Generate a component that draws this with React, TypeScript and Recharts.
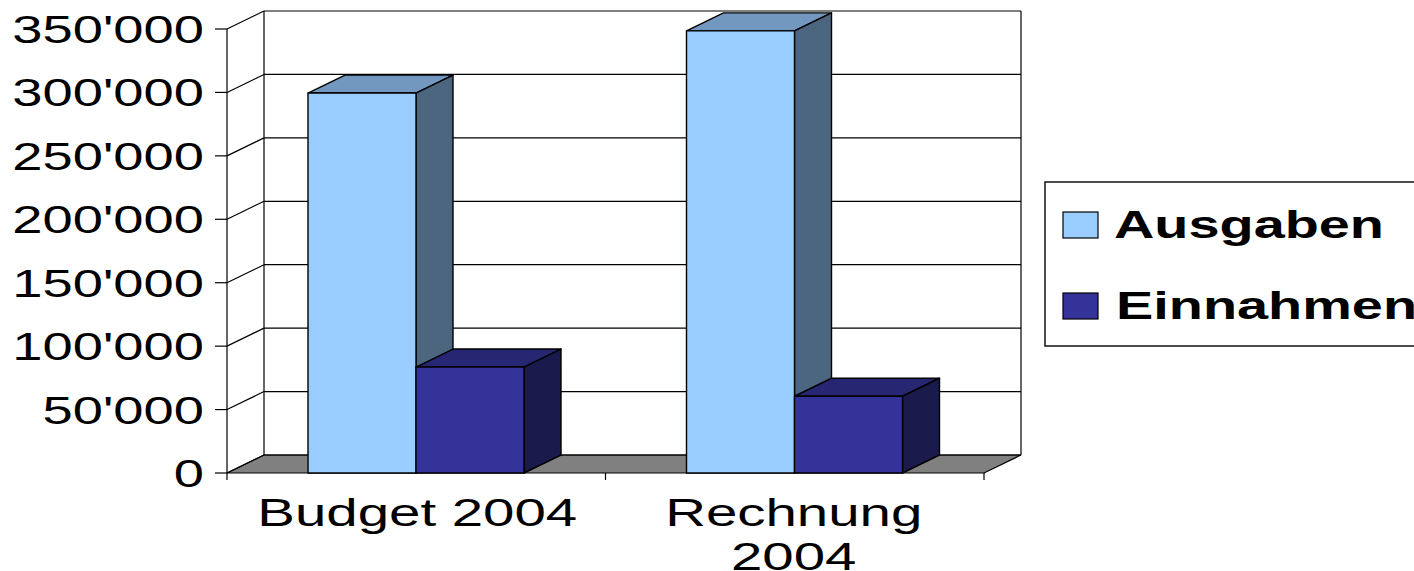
import { BarChart, Bar, XAxis, YAxis, Legend, CartesianGrid } from 'recharts';

const categories = ['Budget 2004', 'Rechnung 2004'];
const ausgaben = [299500, 348500];
const einnahmen = [83500, 60500];
const yTicks = [0, 50000, 100000, 150000, 200000, 250000, 300000, 350000];

const rows = categories.map((name, i) => ({ name, Ausgaben: ausgaben[i], Einnahmen: einnahmen[i] }));

const FONT = '"Liberation Sans", Arial, sans-serif';
const LEFT = 227;
const PLOT_W = 757;
const DX = 37;
const DY = -18;
const BAND = PLOT_W / categories.length;

const BLUE = { front: '#99ccff', top: '#7298bf', side: '#4d6680' };
const NAVY = { front: '#333399', top: '#262673', side: '#1a1a4d' };

// the picture is stretched sideways, so the text is too
function Wide({ x, y, size = 38, sx = 1.43, anchor = 'middle', bold = false, children }: any) {
  return (
    <text
      transform={`translate(${x},${y}) scale(${sx},1)`}
      textAnchor={anchor}
      fontFamily={FONT}
      fontSize={size}
      fontWeight={bold ? 700 : 400}
      fill="#000"
    >
      {children}
    </text>
  );
}

// fake 3D walls and floor go in the grid layer so the bars sit on top of them
function WallLine({ y1, y, height }: any) {
  const right = LEFT + PLOT_W + DX;
  const isFloor = Math.abs(y1 - (y + height)) < 0.5;
  const isTop = Math.abs(y1 - y) < 0.5;
  return (
    <g stroke="#000" strokeWidth={1.2}>
      {isFloor && (
        <polygon
          points={`${LEFT},${y1} ${LEFT + DX},${y1 + DY} ${right},${y1 + DY} ${LEFT + PLOT_W},${y1}`}
          fill="#808080"
        />
      )}
      {isTop && (
        <>
          <line x1={LEFT + DX} x2={LEFT + DX} y1={y1 + DY} y2={y1 + DY + height} />
          <line x1={right} x2={right} y1={y1 + DY} y2={y1 + DY + height} />
        </>
      )}
      <line x1={LEFT} x2={LEFT + DX} y1={y1} y2={y1 + DY} />
      <line x1={LEFT + DX} x2={right} y1={y1 + DY} y2={y1 + DY} />
    </g>
  );
}

function ValueTick({ y, payload }: any) {
  const v = payload.value;
  const label = v === 0 ? '0' : `${Math.round(v / 1000)}'000`;
  return (
    <g>
      <line x1={LEFT - 12} x2={LEFT} y1={y} y2={y} stroke="#000" strokeWidth={1.2} />
      <Wide x={204} y={y + 14} anchor="end">
        {label}
      </Wide>
    </g>
  );
}

function CategoryTick({ x, payload, index }: any) {
  const value: string = payload.value;
  const lines = value.length > 11 ? value.split(' ') : [value];
  const axisY = 473;
  return (
    <g>
      <line x1={x - BAND / 2} x2={x - BAND / 2} y1={axisY} y2={axisY + 7} stroke="#000" strokeWidth={1.2} />
      {index === categories.length - 1 && (
        <line x1={x + BAND / 2} x2={x + BAND / 2} y1={axisY} y2={axisY + 7} stroke="#000" strokeWidth={1.2} />
      )}
      {lines.map((line, i) => (
        <Wide key={line} x={x + (i === 0 && lines.length === 1 ? 1 : -1)} y={axisY + 53 + i * 44} sx={1.485}>
          {line}
        </Wide>
      ))}
    </g>
  );
}

function Box3D({ x, y, width, height, tone }: any) {
  const r = x + width;
  const b = y + height;
  return (
    <g stroke="#000" strokeWidth={1.4} strokeLinejoin="round">
      <polygon points={`${x},${y} ${x + DX},${y + DY} ${r + DX},${y + DY} ${r},${y}`} fill={tone.top} />
      <polygon points={`${r},${y} ${r + DX},${y + DY} ${r + DX},${b + DY} ${r},${b}`} fill={tone.side} />
      <rect x={x} y={y} width={width} height={height} fill={tone.front} />
    </g>
  );
}

function LegendBox() {
  return (
    <svg width={372} height={167} style={{ position: 'absolute', left: 0, top: 0, overflow: 'hidden' }}>
      <rect x={1} y={1} width={400} height={164} fill="#fff" stroke="#000" strokeWidth={1.4} />
      <rect x={19} y={31} width={35} height={26} fill={BLUE.front} stroke="#000" strokeWidth={1.2} />
      <Wide x={70} y={57} anchor="start" bold sx={1.47}>
        Ausgaben
      </Wide>
      <rect x={19} y={112} width={35} height={26} fill={NAVY.front} stroke="#000" strokeWidth={1.2} />
      <Wide x={72} y={138} anchor="start" bold sx={1.47}>
        Einnahmen
      </Wide>
    </svg>
  );
}

export default function App() {
  return (
    <div style={{ position: 'absolute', left: 0, top: 0, width: 1414, height: 571, overflow: 'hidden', background: '#fff' }}>
      <BarChart
        width={1414}
        height={571}
        data={rows}
        margin={{ top: 29, right: 430, bottom: 0, left: 0 }}
        barCategoryGap={81}
        barGap={0}
      >
        <CartesianGrid vertical={false} syncWithTicks horizontal={(p: any) => <WallLine key={p.key ?? p.y1} {...p} />} />
        <YAxis
          type="number"
          domain={[0, 350000]}
          ticks={yTicks}
          width={LEFT}
          interval={0}
          tick={<ValueTick />}
          tickLine={false}
          axisLine={{ stroke: '#000', strokeWidth: 1.2 }}
        />
        <XAxis
          dataKey="name"
          height={98}
          interval={0}
          tick={<CategoryTick />}
          tickLine={false}
          axisLine={false}
        />
        <Legend
          layout="vertical"
          align="right"
          verticalAlign="top"
          content={<LegendBox />}
          wrapperStyle={{ position: 'absolute', left: 1044, top: 181, width: 0, height: 0 }}
        />
        <Bar dataKey="Ausgaben" fill={BLUE.front} isAnimationActive={false} shape={(p: any) => <Box3D {...p} tone={BLUE} />} />
        <Bar dataKey="Einnahmen" fill={NAVY.front} isAnimationActive={false} shape={(p: any) => <Box3D {...p} tone={NAVY} />} />
      </BarChart>
    </div>
  );
}
